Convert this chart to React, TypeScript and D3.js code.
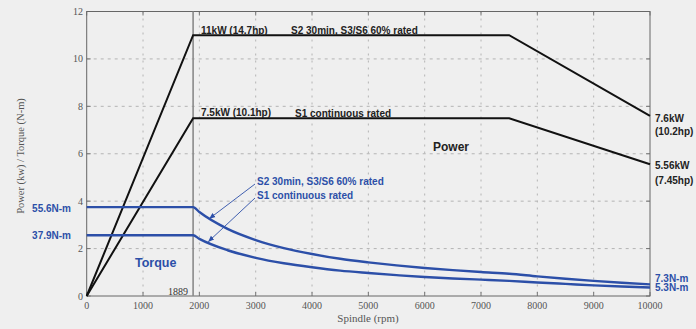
import React from "react";
import * as d3 from "d3";

const X_TICKS = [0, 1000, 2000, 3000, 4000, 5000, 6000, 7000, 8000, 9000, 10000];
const Y_TICKS = [0, 2, 4, 6, 8, 10, 12];

const POWER_RPM = [0, 1889, 7500, 10000];
const POWER_S2 = [0, 11, 11, 7.6];
const POWER_S1 = [0, 7.5, 7.5, 5.56];

// torque, read in axis units (left axis scale)
const TORQUE_RPM = [0, 1889, 2000, 2500, 3000, 3500, 4000, 4500, 5000, 5500, 6000, 6500, 7000, 7500, 8000, 8500, 9000, 9500, 10000];
const TORQUE_S2 = [3.75, 3.75, 3.54, 2.83, 2.36, 2.02, 1.77, 1.57, 1.42, 1.29, 1.18, 1.09, 1.01, 0.94, 0.83, 0.73, 0.64, 0.56, 0.49];
const TORQUE_S1 = [2.56, 2.56, 2.41, 1.93, 1.61, 1.38, 1.21, 1.07, 0.97, 0.88, 0.8, 0.74, 0.69, 0.64, 0.57, 0.51, 0.45, 0.4, 0.36];

const BASE_RPM = 1889;

const W = 696, H = 329;
const L = 86.7, R = 650, T = 11.5, B = 296;
const BLUE = "#2c4fa8";
const SANS = "'Liberation Sans', Arial, sans-serif";
const SERIF = "'Liberation Serif', 'Times New Roman', serif";

export default function App() {
  const x = d3.scaleLinear().domain([0, 10000]).range([L, R]);
  const y = d3.scaleLinear().domain([0, 12]).range([B, T]);
  const line = (xs: number[], ys: number[]) =>
    d3.line<number>().x((_, i) => x(xs[i])).y((v) => y(v))(ys) || "";
  const curve = (xs: number[], ys: number[]) =>
    d3.line<number>().x((_, i) => x(xs[i])).y((v) => y(v)).curve(d3.curveMonotoneX)(ys) || "";

  return (
    <svg width={W} height={H} style={{ position: "absolute", left: 0, top: 0, background: "#efefef" }}>
      <defs>
        <marker id="ah" viewBox="0 0 10 10" refX="9" refY="5" markerWidth="7" markerHeight="7" orient="auto-start-reverse">
          <path d="M0,1 L10,5 L0,9 z" fill={BLUE} />
        </marker>
      </defs>
      <rect x={0} y={0} width={W} height={H} fill="#efefef" />
      {/* grid */}
      {X_TICKS.slice(1, -1).map((t) => (
        <line key={"gx" + t} x1={x(t)} x2={x(t)} y1={T} y2={B} stroke="#b4b4b4" strokeWidth={1} strokeDasharray="2,5" />
      ))}
      {Y_TICKS.slice(1, -1).map((t) => (
        <line key={"gy" + t} x1={L} x2={R} y1={y(t)} y2={y(t)} stroke="#b4b4b4" strokeWidth={1} strokeDasharray="3,4" />
      ))}
      {/* tick marks */}
      {X_TICKS.map((t) => (
        <g key={"tx" + t}>
          <line x1={x(t)} x2={x(t)} y1={B} y2={B - 4} stroke="#777" />
          <line x1={x(t)} x2={x(t)} y1={T} y2={T + 4} stroke="#777" />
        </g>
      ))}
      {Y_TICKS.map((t) => (
        <g key={"ty" + t}>
          <line x1={L} x2={L + 4} y1={y(t)} y2={y(t)} stroke="#777" />
          <line x1={R} x2={R - 4} y1={y(t)} y2={y(t)} stroke="#777" />
        </g>
      ))}
      {/* frame */}
      <rect x={L} y={T} width={R - L} height={B - T} fill="none" stroke="#666" strokeWidth={1} />
      {/* base speed line */}
      <line x1={x(BASE_RPM)} x2={x(BASE_RPM)} y1={T} y2={B} stroke="#8a8a8a" strokeWidth={1.6} />
      {/* tick labels */}
      {X_TICKS.map((t) => (
        <text key={"lx" + t} x={x(t)} y={309} textAnchor="middle" fontFamily={SERIF} fontSize={10} fill="#555">{t}</text>
      ))}
      {Y_TICKS.map((t) => (
        <text key={"ly" + t} x={83} y={y(t) + 3.5} textAnchor="end" fontFamily={SERIF} fontSize={10} fill="#555">{t}</text>
      ))}
      <text x={368} y={322} textAnchor="middle" fontFamily={SERIF} fontSize={11} fill="#555">Spindle (rpm)</text>
      <text transform="translate(24,156) rotate(-90)" textAnchor="middle" fontFamily={SERIF} fontSize={10.5} fill="#555">Power (kw) / Torque (N-m)</text>
      <text x={188} y={295} textAnchor="end" fontFamily={SERIF} fontSize={10} fill="#333">{BASE_RPM}</text>

      {/* power curves */}
      <path d={line(POWER_RPM, POWER_S2)} fill="none" stroke="#111" strokeWidth={2} />
      <path d={line(POWER_RPM, POWER_S1)} fill="none" stroke="#111" strokeWidth={2} />

      {/* torque curves */}
      <path d={curve(TORQUE_RPM, TORQUE_S2)} fill="none" stroke={BLUE} strokeWidth={2.4} />
      <path d={curve(TORQUE_RPM, TORQUE_S1)} fill="none" stroke={BLUE} strokeWidth={2.4} />

      {/* power labels */}
      <g fontFamily={SANS} fontWeight="bold" fontSize={10} fill="#222">
        <text x={201} y={33.5}>11kW (14.7hp)</text>
        <text x={291} y={33.5}>S2 30min, S3/S6 60% rated</text>
        <text x={201} y={115.5}>7.5kW (10.1hp)</text>
        <text x={295} y={116.5}>S1 continuous rated</text>
        <text x={655} y={121.5}>7.6kW</text>
        <text x={655} y={134.5}>(10.2hp)</text>
        <text x={655} y={168.5}>5.56kW</text>
        <text x={655} y={184}>(7.45hp)</text>
      </g>
      <text x={433} y={151} fontFamily={SANS} fontWeight="bold" fontSize={12} fill="#222">Power</text>

      {/* torque labels */}
      <g fontFamily={SANS} fontWeight="bold" fontSize={10} fill={BLUE}>
        <text x={71} y={211.5} textAnchor="end">55.6N-m</text>
        <text x={71} y={238.5} textAnchor="end">37.9N-m</text>
        <text x={257} y={185}>S2 30min, S3/S6 60% rated</text>
        <text x={257} y={199}>S1 continuous rated</text>
        <text x={655} y={281.5}>7.3N-m</text>
        <text x={655} y={291}>5.3N-m</text>
      </g>
      <text x={135} y={267} fontFamily={SANS} fontWeight="bold" fontSize={12.5} fill={BLUE}>Torque</text>

      {/* arrows */}
      <line x1={255} y1={184} x2={209.5} y2={218.5} stroke={BLUE} strokeWidth={0.9} markerEnd="url(#ah)" />
      <line x1={255} y1={198} x2={208.5} y2={241.5} stroke={BLUE} strokeWidth={0.9} markerEnd="url(#ah)" />
    </svg>
  );
}
